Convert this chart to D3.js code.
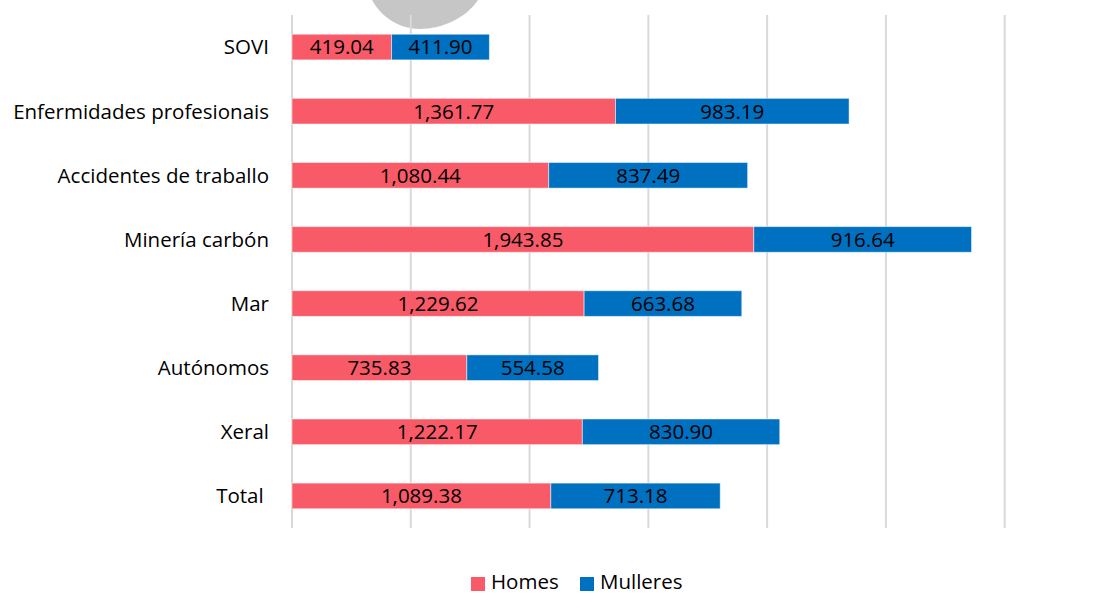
<!DOCTYPE html>
<html>
<head>
<meta charset="utf-8">
<script src="https://cdn.jsdelivr.net/npm/d3@7"></script>
<style>
  html, body { margin: 0; padding: 0; background: #fff; }
  svg { display: block; }
  text { font-family: "Open Sans", Lato, sans-serif; white-space: pre; }
</style>
</head>
<body>
<svg id="chart" width="1111" height="595"></svg>
<script>
const categories = ["SOVI", "Enfermidades profesionais", "Accidentes de traballo", "Minería carbón", "Mar", "Autónomos", "Xeral", "Total "];
const homes    = [419.04, 1361.77, 1080.44, 1943.85, 1229.62, 735.83, 1222.17, 1089.38];
const mulleres = [411.90, 983.19, 837.49, 916.64, 663.68, 554.58, 830.90, 713.18];
const seriesNames = ["Homes", "Mulleres"];
const xTicks = [0, 500, 1000, 1500, 2000, 2500, 3000];

const colors = { Homes: "#F85A68", Mulleres: "#0070C0" };
const svg = d3.select("#chart");
const FS = 20.5;

const x = d3.scaleLinear().domain([0, 3000]).range([292, 1004.7]);
const y = d3.scaleBand().domain(categories).range([15, 528]).paddingInner(0.6).paddingOuter(0.3);

// decorative grey blob at top
svg.append("path")
  .attr("d", "M372,0 C382,18 400,29 420,29 C442,29 466,18 478,0 Z")
  .attr("fill", "#c6c6c6");

// gridlines
svg.append("g").selectAll("line").data(xTicks).join("line")
  .attr("x1", d => x(d)).attr("x2", d => x(d))
  .attr("y1", 15).attr("y2", 528)
  .attr("stroke", "#d9d9d9").attr("stroke-width", 2);

const rows = categories.map((c, i) => ({ cat: c, Homes: homes[i], Mulleres: mulleres[i] }));
const stack = d3.stack().keys(seriesNames)(rows);

const fmt = d3.format(",.2f");

const layer = svg.append("g").selectAll("g").data(stack).join("g")
  .attr("fill", d => colors[d.key]);

layer.selectAll("rect").data(d => d).join("rect")
  .attr("x", d => x(d[0]))
  .attr("width", d => x(d[1]) - x(d[0]))
  .attr("y", d => y(d.data.cat))
  .attr("height", y.bandwidth())
  .attr("stroke", "rgba(255,255,255,0.5)")
  .attr("stroke-width", 1);

layer.selectAll("text").data(d => d.map(v => ({ v, key: d.key }))).join("text")
  .attr("x", d => (x(d.v[0]) + x(d.v[1])) / 2)
  .attr("y", d => y(d.v.data.cat) + y.bandwidth() / 2)
  .attr("dy", "0.36em")
  .attr("text-anchor", "middle")
  .attr("fill", "#000")
  .attr("font-size", FS)
  .text(d => fmt(d.v.data[d.key]));

// category labels
svg.append("g").selectAll("text").data(categories).join("text")
  .attr("x", 269)
  .attr("y", d => y(d) + y.bandwidth() / 2)
  .attr("dy", "0.36em")
  .attr("text-anchor", "end")
  .attr("fill", "#000")
  .attr("font-size", FS)
  .text(d => d);

// legend
const legend = svg.append("g");
const legendPos = [471, 580];
seriesNames.forEach((s, i) => {
  legend.append("rect")
    .attr("x", legendPos[i]).attr("y", 577)
    .attr("width", 14).attr("height", 14)
    .attr("fill", colors[s]);
  legend.append("text")
    .attr("x", legendPos[i] + 20).attr("y", 582)
    .attr("dy", "0.36em")
    .attr("font-size", FS)
    .attr("fill", "#000")
    .text(s);
});
</script>
</body>
</html>
